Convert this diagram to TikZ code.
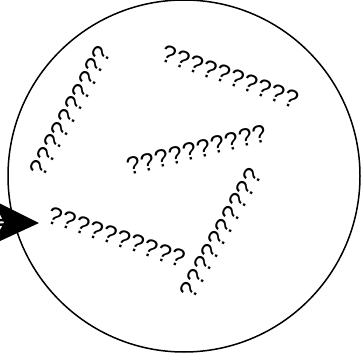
\documentclass[tikz,border=0pt]{standalone}
\usepackage{fontspec}
\setmainfont{Liberation Sans}
\usepackage{tikz}
\usetikzlibrary{arrows.meta}

\newfontfamily\qfont[LetterSpace=2]{Liberation Sans}

\begin{document}
\begin{tikzpicture}[x=1pt, y=-1pt,
        qmark/.style={font=\qfont\fontsize{25}{28}\selectfont, inner sep=0pt},
        ring/.style={circle, draw, line width=1.5pt, minimum size=352pt, inner sep=0pt}]
        \useasboundingbox (0,0) rectangle (361,358);

        \node[ring] (ring) at (184,176) {};

        \node[qmark, rotate=61.5]  (q1) at (70.5,111) {??????????};
        \node[qmark, rotate=-19.6] (q2) at (230,76.5) {??????????};
        \node[qmark, rotate=14]    (q3) at (196.5,150) {??????????};
        \node[qmark, rotate=-18.7] (q4) at (116.5,237) {??????????};
        \node[qmark, rotate=61]    (q5) at (221,233) {??????????};

        \coordinate (in) at (-30,222);
        \coordinate (tip) at (39,223);

        \draw[-{Stealth[length=46pt, width=44pt, inset=11pt]}, double, double distance=2pt, line width=2.5pt]
        (in) -- (tip);
\end{tikzpicture}
\end{document}
